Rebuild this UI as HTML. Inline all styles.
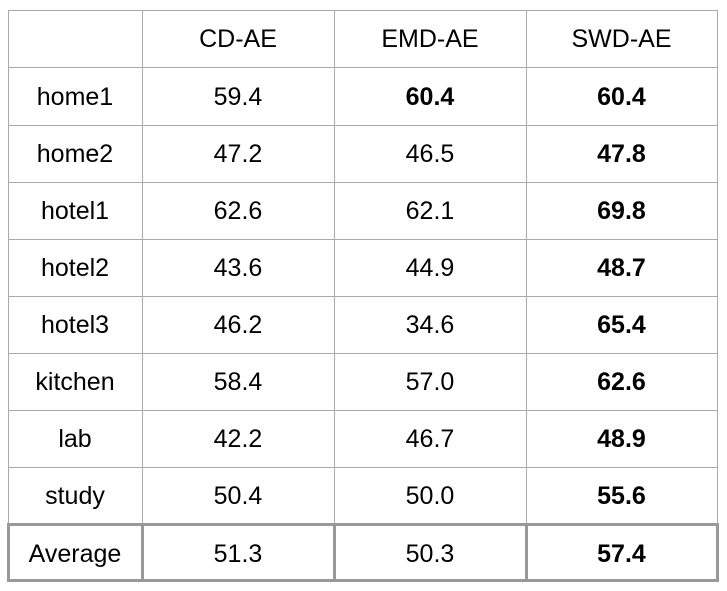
<!DOCTYPE html>
<html><head><meta charset="utf-8"><style>
body{margin:0;width:727px;height:591px;background:#fff;position:relative;overflow:hidden;font-family:"Liberation Sans",sans-serif;}
.c{position:absolute;box-sizing:border-box;display:flex;align-items:center;justify-content:center;font-size:25px;color:#000;padding-top:2px;}
.h{position:absolute;background:#aaa;}
.k{background:#999;}
</style></head><body>
<div id="t"></div>
<script>
const cols=["","CD-AE","EMD-AE","SWD-AE"];
const rows=["home1","home2","hotel1","hotel2","hotel3","kitchen","lab","study","Average"];
const cd=["59.4","47.2","62.6","43.6","46.2","58.4","42.2","50.4","51.3"];
const emd=["60.4","46.5","62.1","44.9","34.6","57.0","46.7","50.0","50.3"];
const swd=["60.4","47.8","69.8","48.7","65.4","62.6","48.9","55.6","57.4"];
const boldEmd=[true,false,false,false,false,false,false,false,false];
const xs=[8,142,334,526,717];
const ys=[10,67,125,182,239,296,353,410,467,524,582];
const t=document.getElementById('t');
function cell(x0,x1,y0,y1,txt,bold,name){
 const d=document.createElement('div');
 d.className='c';
 d.style.left=x0+'px';d.style.top=y0+'px';d.style.width=(x1-x0)+'px';d.style.height=(y1-y0)+'px';
 if(bold)d.style.fontWeight='bold';
 d.textContent=txt;
 
 
 t.appendChild(d);
}
function line(x,y,w,h,name,thick){
 const d=document.createElement('div');
 d.className=thick?'h k':'h';
 d.style.left=x+'px';d.style.top=y+'px';d.style.width=w+'px';d.style.height=h+'px';
 
 
 t.appendChild(d);
}
for(let j=0;j<4;j++) cell(xs[j],xs[j+1],ys[0],ys[1],cols[j],false,'header-cell');
for(let i=0;i<rows.length;i++){
 const y0=ys[i+1],y1=ys[i+2];
 cell(xs[0],xs[1],y0,y1,rows[i],false,'row-label');
 cell(xs[1],xs[2],y0,y1,cd[i],false,'cd-ae-value');
 cell(xs[2],xs[3],y0,y1,emd[i],boldEmd[i],'emd-ae-value');
 cell(xs[3],xs[4],y0,y1,swd[i],true,'swd-ae-value');
}
for(let i=0;i<ys.length-2;i++) line(8,ys[i],710,1,'row-line',false);
for(let j=0;j<xs.length;j++) line(xs[j],10,1,ys[9]-10,'column-line',false);
line(7,523,711,3,'average-top-border',true);
line(7,579,711,3,'average-bottom-border',true);
for(let j=0;j<xs.length;j++) line(xs[j]-1,523,3,59,'average-column-border',true);
</script>
</body></html>
